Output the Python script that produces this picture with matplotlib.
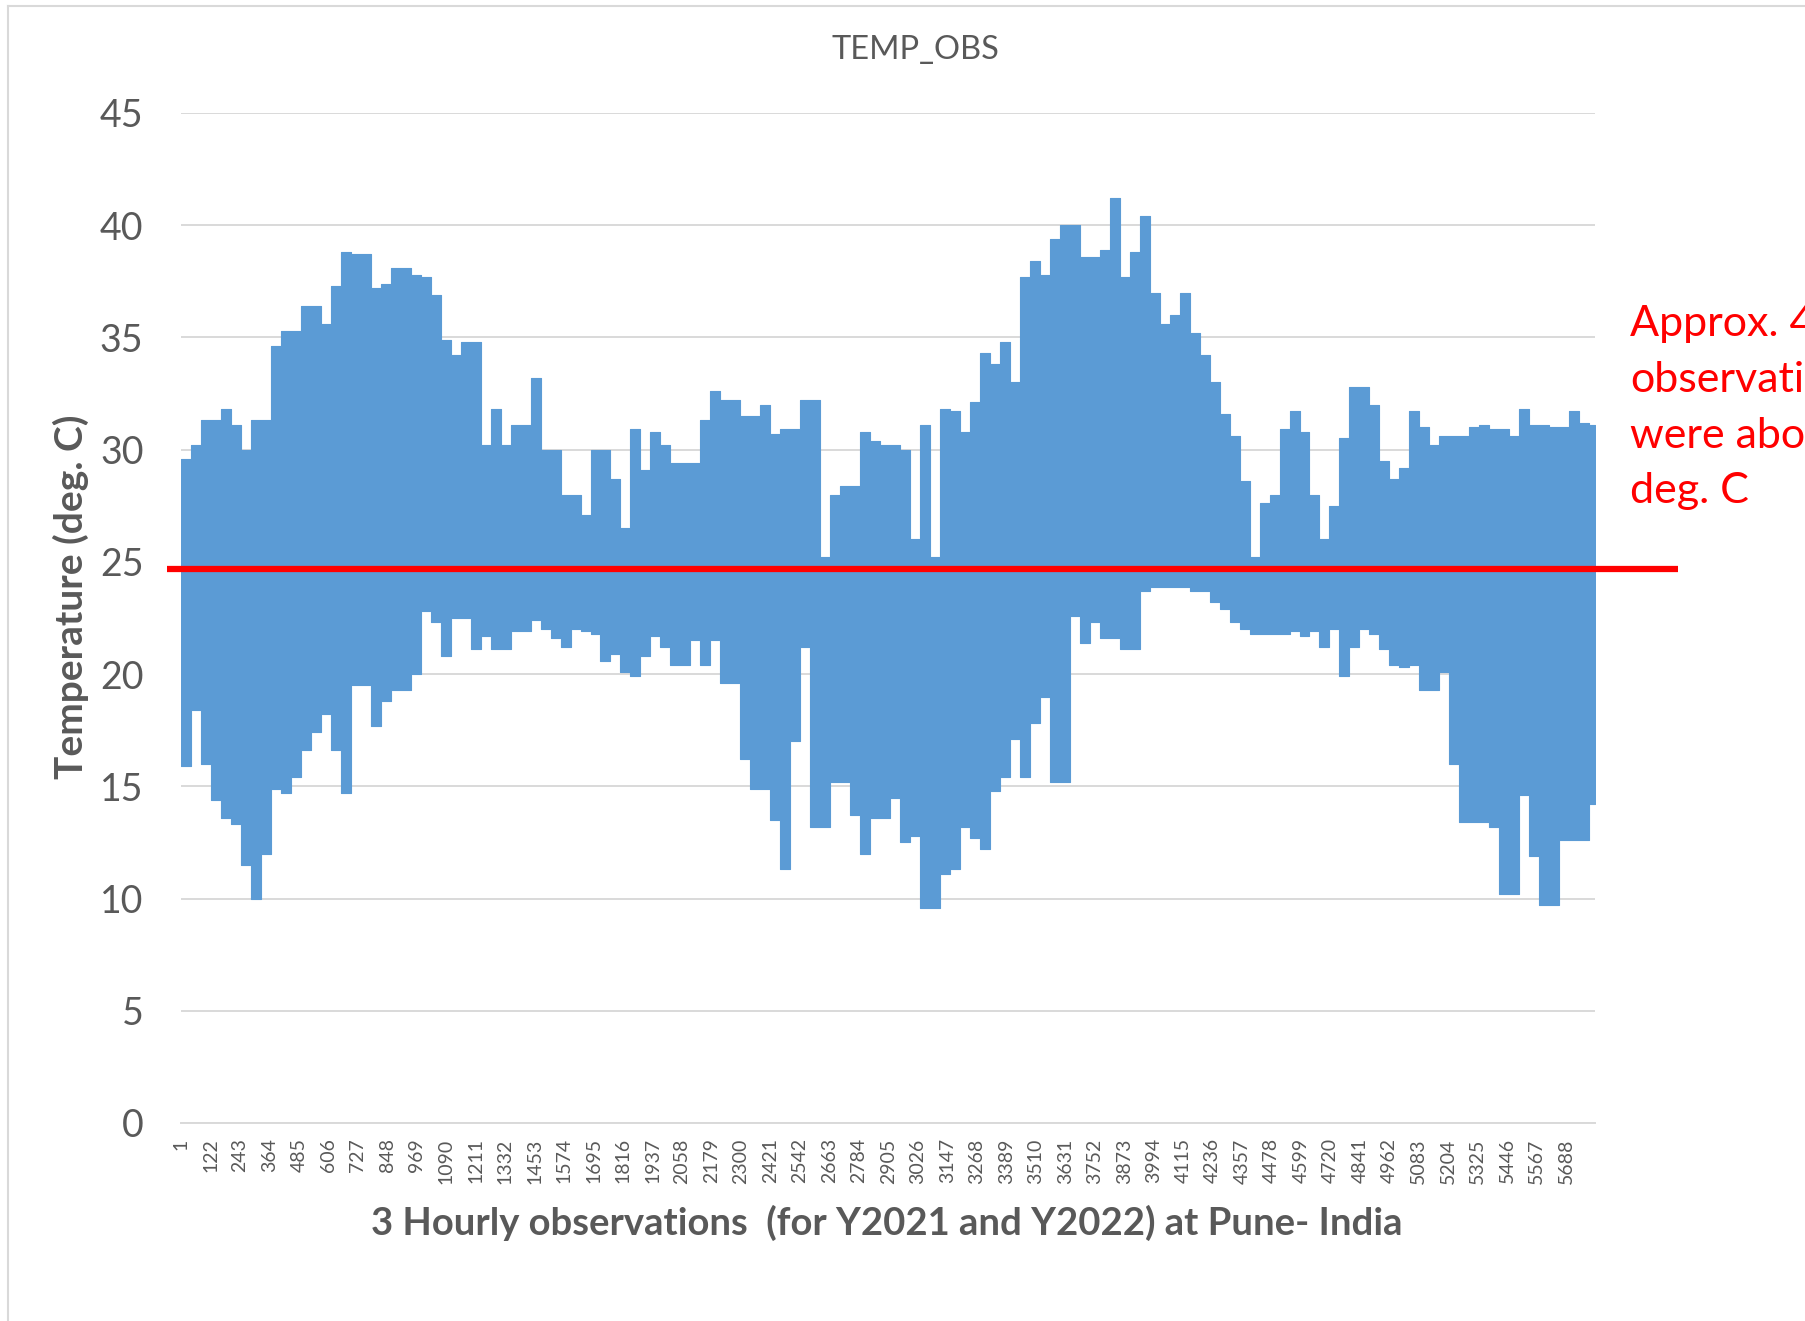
import numpy as np
import matplotlib
matplotlib.use("Agg")
import matplotlib.pyplot as plt
from matplotlib.lines import Line2D
import matplotlib.transforms as mtransforms

# ======================================
# DATA (read off the picture, ~41-observation bins: envelope of the 3-hourly series)
# ======================================
n_obs = 5806
bin_width = 41
obs_start = np.arange(1, n_obs, bin_width)

t_high = [
    # obs 1 - 981
    29.6, 30.2, 31.3, 31.3, 31.8, 31.1, 30.0, 31.3, 31.3, 34.6, 35.3, 35.3,
    36.4, 36.4, 35.6, 37.3, 38.8, 38.7, 38.7, 37.2, 37.4, 38.1, 38.1, 37.8,
    # obs 982 - 1966
    37.7, 36.9, 34.9, 34.2, 34.8, 34.8, 30.2, 31.8, 30.2, 31.1, 31.1, 33.2,
    30.0, 30.0, 28.0, 28.0, 27.1, 30.0, 30.0, 28.7, 26.5, 30.9, 29.1, 30.8,
    # obs 1968 - 2952
    30.2, 29.4, 29.4, 29.4, 31.3, 32.6, 32.2, 32.2, 31.5, 31.5, 32.0, 30.7,
    30.9, 30.9, 32.2, 32.2, 25.2, 28.0, 28.4, 28.4, 30.8, 30.4, 30.2, 30.2,
    # obs 2953 - 3937
    30.0, 26.0, 31.1, 25.2, 31.8, 31.7, 30.8, 32.1, 34.3, 33.8, 34.8, 33.0,
    37.7, 38.4, 37.8, 39.4, 40.0, 40.0, 38.6, 38.6, 38.9, 41.2, 37.7, 38.8,
    # obs 3938 - 4922
    40.4, 37.0, 35.6, 36.0, 37.0, 35.2, 34.2, 33.0, 31.6, 30.6, 28.6, 25.2,
    27.6, 28.0, 30.9, 31.7, 30.8, 28.0, 26.0, 27.5, 30.5, 32.8, 32.8, 32.0,
    # obs 4923 - 5806
    29.5, 28.7, 29.2, 31.7, 31.0, 30.2, 30.6, 30.6, 30.6, 31.0, 31.1, 30.9,
    30.9, 30.6, 31.8, 31.1, 31.1, 31.0, 31.0, 31.7, 31.2, 31.1,
]

t_low = [
    15.9, 18.4, 16.0, 14.4, 13.6, 13.3, 11.5, 10.0, 12.0, 14.9, 14.7, 15.4,
    16.6, 17.4, 18.2, 16.6, 14.7, 19.5, 19.5, 17.7, 18.8, 19.3, 19.3, 20.0,
    22.8, 22.3, 20.8, 22.5, 22.5, 21.1, 21.7, 21.1, 21.1, 21.9, 21.9, 22.4,
    22.0, 21.6, 21.2, 22.0, 21.9, 21.8, 20.6, 20.9, 20.1, 19.9, 20.8, 21.7,
    21.2, 20.4, 20.4, 21.5, 20.4, 21.5, 19.6, 19.6, 16.2, 14.9, 14.9, 13.5,
    11.3, 17.0, 21.2, 13.2, 13.2, 15.2, 15.2, 13.7, 12.0, 13.6, 13.6, 14.5,
    12.5, 12.8, 9.6, 9.6, 11.1, 11.3, 13.2, 12.7, 12.2, 14.8, 15.4, 17.1,
    15.4, 17.8, 19.0, 15.2, 15.2, 22.6, 21.4, 22.3, 21.6, 21.6, 21.1, 21.1,
    23.7, 23.9, 23.9, 23.9, 23.9, 23.7, 23.7, 23.2, 22.9, 22.3, 22.0, 21.8,
    21.8, 21.8, 21.8, 21.9, 21.7, 21.9, 21.2, 22.0, 19.9, 21.2, 22.0, 21.8,
    21.1, 20.4, 20.3, 20.4, 19.3, 19.3, 20.1, 16.0, 13.4, 13.4, 13.4, 13.2,
    10.2, 10.2, 14.6, 11.9, 9.7, 9.7, 12.6, 12.6, 12.6, 14.2,
]

threshold = 24.7
x_tick_obs = list(range(1, 5689, 121))
y_ticks = [0, 5, 10, 15, 20, 25, 30, 35, 40, 45]

title = "TEMP_OBS"
x_label = "3 Hourly observations  (for Y2021 and Y2022) at Pune- India"
y_label = "Temperature (deg. C)"
note = "Approx. 40%\nobservations\nwere above 25\ndeg. C"

# ======================================
# STYLE
# ======================================
plt.rcParams["font.family"] = ["Lato", "DejaVu Sans"]
grey_txt = "#595959"
grid_col = "#d9d9d9"
blue = "#5B9BD5"

fig = plt.figure(figsize=(18.06, 13.21), dpi=100)
ax = fig.add_axes([0.1002, 0.1499, 0.7830, 0.7646])

# close the last bin
xs = np.append(obs_start, n_obs)
hi = np.append(t_high, t_high[-1])
lo = np.append(t_low, t_low[-1])

ax.fill_between(xs, lo, hi, step="post", color=blue, lw=0.8, edgecolor=blue, zorder=2)

ax.set_xlim(0.5, n_obs + 0.5)
ax.set_ylim(0, 45)
ax.set_yticks(y_ticks)
ax.set_xticks(x_tick_obs)
ax.set_xticklabels([str(v) for v in x_tick_obs], rotation=90, fontsize=14, color=grey_txt)
ax.tick_params(axis="x", length=0, pad=11)
ax.tick_params(axis="y", length=0, pad=27, labelsize=27, labelcolor=grey_txt)

ax.yaxis.grid(True, color=grid_col, lw=1.4, zorder=0)
ax.set_axisbelow(True)
for s in ["top", "right", "left"]:
    ax.spines[s].set_visible(False)
ax.spines["bottom"].set_color(grid_col)
ax.spines["bottom"].set_linewidth(1.4)

# red 25 deg line, extends past the plot area
trans = mtransforms.blended_transform_factory(ax.transAxes, ax.transData)
ax.plot([-0.0099, 1.0587], [threshold, threshold], color="#ff0000", lw=4.5,
        transform=trans, clip_on=False, zorder=5, solid_capstyle="butt")

# titles and labels
fig.text(0.507, 0.9625, title, ha="center", va="center", fontsize=23.5, color=grey_txt)
fig.text(0.491, 0.0742, x_label, ha="center", va="center", fontsize=27.5,
         fontweight="bold", color=grey_txt)
fig.text(0.0393, 0.548, y_label, ha="center", va="center", rotation=90,
         fontsize=28, fontweight="bold", color=grey_txt)

# note runs off the right edge, as in the original
fig.text(0.9025, 0.6915, note, ha="left", va="center", fontsize=31,
         color="#ff0000", linespacing=1.58)

# chart border (only left and top visible in the crop)
fig.add_artist(Line2D([0.0044, 0.0044], [0.0, 0.9955], color=grid_col, lw=1.5))
fig.add_artist(Line2D([0.0044, 1.0], [0.9955, 0.9955], color=grid_col, lw=1.5))

fig.savefig("out.png", dpi=100)
